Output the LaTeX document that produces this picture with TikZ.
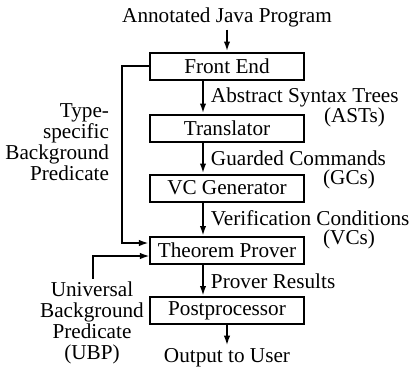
\documentclass[tikz,border=0pt]{standalone}
\usepackage{fontspec}
\setmainfont{Liberation Serif}
\usetikzlibrary{arrows.meta, calc}

\begin{document}
\begin{tikzpicture}[x=0.5pt, y=-0.5pt,
    font=\fontsize{10.6}{10.6}\selectfont,
    line width=1pt,
    stage/.style={draw, minimum width=77pt, minimum height=13.5pt, inner sep=0pt},
    lbl/.style={inner sep=1pt},
    flow/.style={-{Latex[length=5pt, width=3.2pt]}}]
\useasboundingbox (0,0) rectangle (414,371);

% Draw the stages
\node[stage] (fe) at (227,66) {Front End};
\node[stage] (tr) at (227,128) {Translator};
\node[stage] (vc) at (227,188) {VC Generator};
\node[stage] (tp) at (227,250.5) {Theorem Prover};
\node[stage] (pp) at (227,310.5) {Postprocessor};

% Input and output
\node[lbl] (jp) at (227,17) {Annotated Java Program};
\node[lbl] (out) at (227,358) {Output to User};
\draw[flow] (jp.south) -- (fe.north);
\draw[flow] (pp.south) -- (out.north);

% Connectors between stages
\coordinate (col) at (203,0);
\draw[flow] (fe.south -| col) -- (tr.north -| col);
\draw[flow] (tr.south -| col) -- (vc.north -| col);
\draw[flow] (vc.south -| col) -- (tp.north -| col);
\draw[flow] (tp.south -| col) -- (pp.north -| col);

% Labels of the connectors
\node[lbl, anchor=west] (ast) at (208,97) {Abstract Syntax Trees};
\node[lbl, anchor=east] (asts) at (388,117) {(ASTs)};
\node[lbl, anchor=west] (gc) at (208,158) {Guarded Commands};
\node[lbl, anchor=east] (gcs) at (378,179) {(GCs)};
\node[lbl, anchor=west] (vcl) at (208,218) {Verification Conditions};
\node[lbl, anchor=east] (vcs) at (378,239) {(VCs)};
\node[lbl, anchor=west] (pr) at (208,281) {Prover Results};

% Background predicates
\node[lbl, align=right, anchor=east] (tsbp) at (112,142) {Type-\\specific\\Background\\Predicate};
\node[lbl, align=center] (ubp) at (92,323) {Universal\\Background\\Predicate\\(UBP)};
\coordinate (tsbin) at (122,243);
\coordinate (ubpin) at (150,256);
\draw[flow] (fe.west) -| (tsbin) -- (tsbin -| tp.west);
\draw[flow] (ubp.north -| 93,0) |- (ubpin);

\end{tikzpicture}
\end{document}
